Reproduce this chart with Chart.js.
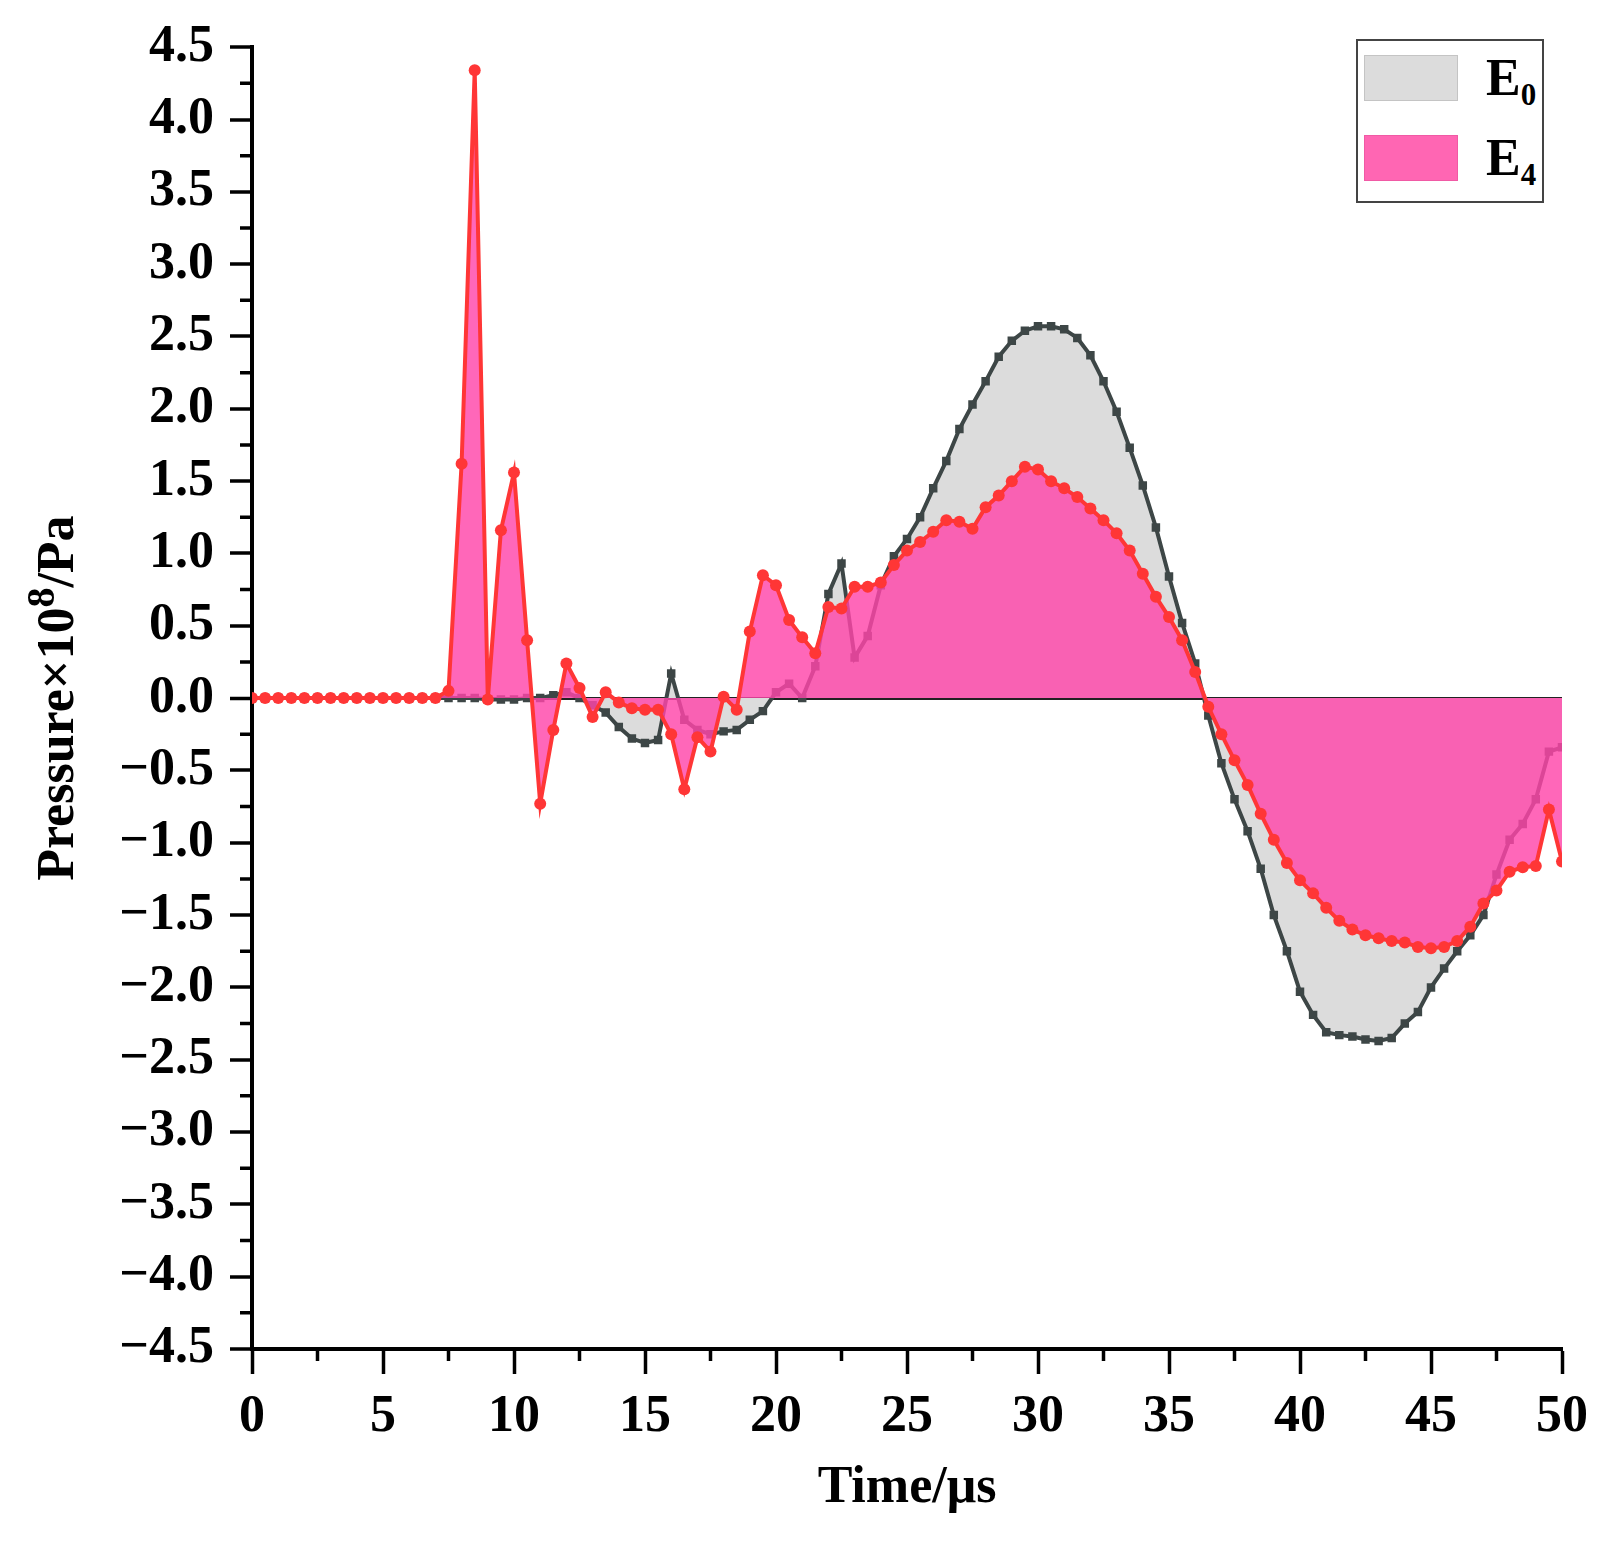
<!DOCTYPE html>
<html>
<head>
<meta charset="utf-8">
<script src="https://cdn.jsdelivr.net/npm/chart.js@4.4.1/dist/chart.umd.min.js"></script>
<style>
	html, body { margin: 0; padding: 0; background: #fff; }
	#wrap { position: relative; width: 1611px; height: 1544px; }
	#legend {
		position: absolute; left: 1356px; top: 39px; width: 188px; height: 164px;
		box-sizing: border-box; border: 2px solid #444; background: #fff;
		font-family: "Liberation Serif", "Times New Roman", serif; font-weight: bold; font-size: 52px; color: #000;
	}
	#legend .sw { position: absolute; left: 6px; width: 94px; height: 46px; box-sizing: border-box; }
	#legend .lb { position: absolute; left: 128px; line-height: 46px; }
	#legend sub { font-size: 31px; vertical-align: -10px; line-height: 0; }
</style>
</head>
<body>
<div id="wrap">
	<canvas id="chart"></canvas>
	<div id="legend">
		<div class="sw" style="top:14px;background:#dcdcdc;border:1px solid #c4c4c4;"></div>
		<div class="lb" style="top:14px;">E<sub>0</sub></div>
		<div class="sw" style="top:94px;background:#ff66b3;border:1px solid #f05aa5;"></div>
		<div class="lb" style="top:94px;">E<sub>4</sub></div>
	</div>
</div>
<script>
// time axis, us
var time = [
	0, 0.5, 1, 1.5, 2, 2.5, 3, 3.5, 4, 4.5,
	5, 5.5, 6, 6.5, 7, 7.5, 8, 8.5, 9, 9.5,
	10, 10.5, 11, 11.5, 12, 12.5, 13, 13.5, 14, 14.5,
	15, 15.5, 16, 16.5, 17, 17.5, 18, 18.5, 19, 19.5,
	20, 20.5, 21, 21.5, 22, 22.5, 23, 23.5, 24, 24.5,
	25, 25.5, 26, 26.5, 27, 27.5, 28, 28.5, 29, 29.5,
	30, 30.5, 31, 31.5, 32, 32.5, 33, 33.5, 34, 34.5,
	35, 35.5, 36, 36.5, 37, 37.5, 38, 38.5, 39, 39.5,
	40, 40.5, 41, 41.5, 42, 42.5, 43, 43.5, 44, 44.5,
	45, 45.5, 46, 46.5, 47, 47.5, 48, 48.5, 49, 49.5,
	50
];

// pressure x1e8 Pa
var e0 = [
	0, 0, 0, 0, 0, 0, 0, 0, 0, 0,
	0, 0, 0, 0, 0, 0, 0, 0, -0.01, -0.01,
	-0.01, 0, 0, 0.02, 0.04, 0, -0.05, -0.10, -0.20, -0.28,
	-0.31, -0.29, 0.17, -0.15, -0.22, -0.25, -0.23, -0.22, -0.15, -0.09,
	0.04, 0.10, 0, 0.22, 0.72, 0.93, 0.28, 0.43, 0.78, 0.98,
	1.10, 1.25, 1.45, 1.64, 1.86, 2.03, 2.19, 2.36, 2.47, 2.54,
	2.57, 2.57, 2.55, 2.49, 2.37, 2.19, 1.98, 1.73, 1.47, 1.18,
	0.84, 0.52, 0.24, -0.12, -0.45, -0.70, -0.92, -1.18, -1.50, -1.75,
	-2.03, -2.19, -2.31, -2.33, -2.34, -2.36, -2.37, -2.35, -2.25, -2.17,
	-2.00, -1.87, -1.75, -1.64, -1.50, -1.22, -0.98, -0.87, -0.70, -0.37,
	-0.34
];

var e4 = [
	0, 0, 0, 0, 0, 0, 0, 0, 0, 0,
	0, 0, 0, 0, 0, 0.05, 1.62, 4.34, -0.01, 1.16,
	1.56, 0.40, -0.73, -0.22, 0.24, 0.07, -0.13, 0.04, -0.03, -0.07,
	-0.08, -0.08, -0.25, -0.63, -0.27, -0.37, 0.01, -0.08, 0.46, 0.85,
	0.78, 0.54, 0.42, 0.31, 0.63, 0.62, 0.77, 0.77, 0.80, 0.92,
	1.02, 1.08, 1.15, 1.23, 1.22, 1.17, 1.32, 1.40, 1.50, 1.60,
	1.58, 1.50, 1.45, 1.39, 1.31, 1.23, 1.14, 1.02, 0.86, 0.70,
	0.56, 0.40, 0.18, -0.06, -0.25, -0.43, -0.60, -0.80, -0.98, -1.14,
	-1.26, -1.35, -1.45, -1.54, -1.60, -1.64, -1.66, -1.68, -1.69, -1.72,
	-1.73, -1.72, -1.68, -1.58, -1.42, -1.33, -1.20, -1.17, -1.16, -0.77,
	-1.13
];

var serif = '"Liberation Serif", "Times New Roman", serif';

function pts(arr) {
	return arr.map(function(v, i) { return { x: time[i], y: v }; });
}

// short ticks halfway between the labelled ones
var minorTicks = {
	id: 'minorTicks',
	afterDraw: function(chart) {
		var ctx = chart.ctx;
		var xs = chart.scales.x, ys = chart.scales.y;
		ctx.save();
		ctx.strokeStyle = '#000';
		ctx.lineWidth = 3.5;
		ctx.beginPath();
		for (var i = 0; i < ys.ticks.length - 1; i++) {
			var py = ys.getPixelForValue((ys.ticks[i].value + ys.ticks[i + 1].value) / 2);
			ctx.moveTo(ys.right - 12, py);
			ctx.lineTo(ys.right, py);
		}
		for (var j = 0; j < xs.ticks.length - 1; j++) {
			var px = xs.getPixelForValue((xs.ticks[j].value + xs.ticks[j + 1].value) / 2);
			ctx.moveTo(px, xs.top);
			ctx.lineTo(px, xs.top + 12);
		}
		ctx.stroke();
		ctx.restore();
	}
};

// y title with a full size raised exponent
var yTitle = {
	id: 'yTitle',
	afterDraw: function(chart) {
		var ctx = chart.ctx;
		var ca = chart.chartArea;
		var big = 'bold 52px ' + serif, sup = 'bold 40px ' + serif;
		var a = 'Pressure×10', b = '8', c = '/Pa';
		ctx.save();
		ctx.font = big;
		var wa = ctx.measureText(a).width, wc = ctx.measureText(c).width;
		ctx.font = sup;
		var wb = ctx.measureText(b).width;
		var total = wa + wb + wc;
		ctx.translate(60, (ca.top + ca.bottom) / 2);
		ctx.rotate(-Math.PI / 2);
		ctx.fillStyle = '#000';
		ctx.textBaseline = 'middle';
		ctx.textAlign = 'left';
		var x0 = -total / 2;
		ctx.font = big;
		ctx.fillText(a, x0, 0);
		ctx.font = sup;
		ctx.fillText(b, x0 + wa, -16);
		ctx.font = big;
		ctx.fillText(c, x0 + wa + wb, 0);
		ctx.restore();
	}
};

var ctx = document.getElementById('chart').getContext('2d');

var chart = new Chart(ctx, {
	type: 'line',
	data: {
		datasets: [{
			label: 'E0',
			data: pts(e0),
			order: 1,
			borderColor: '#3d4646',
			backgroundColor: '#dcdcdc',
			borderWidth: 4,
			pointStyle: 'rect',
			pointRadius: 6,
			pointBackgroundColor: '#3d4646',
			pointBorderColor: '#3d4646',
			pointBorderWidth: 0,
			fill: 'origin',
			tension: 0
		}, {
			label: 'E4',
			data: pts(e4),
			order: 0,
			borderColor: '#ff3636',
			backgroundColor: 'rgba(255, 70, 170, 0.82)',
			borderWidth: 4,
			pointStyle: 'circle',
			pointRadius: 6,
			pointBackgroundColor: '#ff3636',
			pointBorderColor: '#ff3636',
			pointBorderWidth: 0,
			fill: 'origin',
			tension: 0
		}]
	},
	options: {
		responsive: true,
		maintainAspectRatio: false,
		devicePixelRatio: 1,
		animation: false,
		layout: { padding: { left: 0, top: 41, right: 49, bottom: 0 } },
		plugins: {
			legend: { display: false },
			tooltip: { enabled: false }
		},
		scales: {
			x: {
				type: 'linear',
				min: 0,
				max: 50,
				afterFit: function(s) { s.height = 195; },
				border: { display: true, color: '#000', width: 4 },
				grid: { drawOnChartArea: false, drawTicks: true, tickLength: 25, tickColor: '#000', tickWidth: 3.5 },
				ticks: {
					stepSize: 5,
					padding: 12,
					color: '#000',
					font: { family: serif, weight: 'bold', size: 52 }
				},
				title: {
					display: true,
					text: 'Time/μs',
					color: '#000',
					padding: { top: 0, bottom: 24 },
					font: { family: serif, weight: 'bold', size: 52, lineHeight: 1.2 }
				}
			},
			y: {
				min: -4.5,
				max: 4.5,
				afterFit: function(s) { s.width = 252; },
				border: { display: true, color: '#000', width: 4 },
				grid: {
					drawOnChartArea: true,
					drawTicks: true,
					tickLength: 22,
					tickColor: '#000',
					tickWidth: 3.5,
					color: function(c) { return c.tick && c.tick.value === 0 ? '#222' : 'rgba(0,0,0,0)'; },
					lineWidth: function(c) { return c.tick && c.tick.value === 0 ? 3 : 0; }
				},
				ticks: {
					stepSize: 0.5,
					autoSkip: false,
					padding: 16,
					color: '#000',
					font: { family: serif, weight: 'bold', size: 52 },
					callback: function(v) { return v.toFixed(1).replace('-', '\u2212'); }
				},
				title: { display: false }
			}
		}
	},
	plugins: [minorTicks, yTitle]
});
</script>
</body>
</html>
